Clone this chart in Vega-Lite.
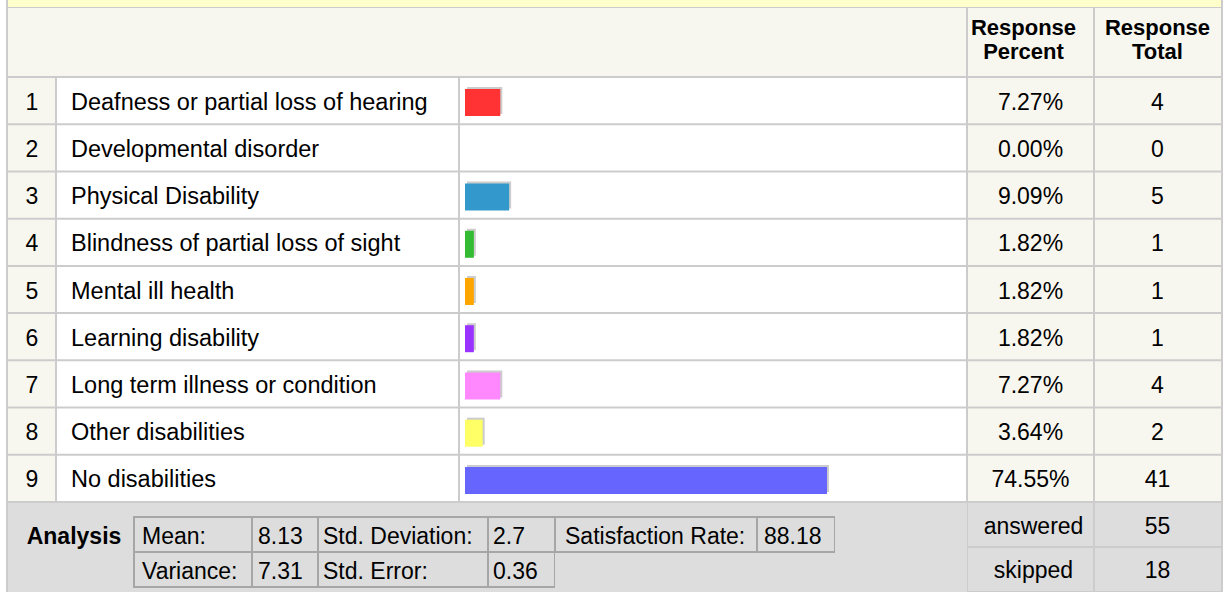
{
  "$schema": "https://vega.github.io/schema/vega-lite/v6.json",
  "padding": {"left": 6, "top": 0, "right": 4, "bottom": 0},
  "background": "white",
  "spacing": 0,
  "config": {
    "view": {"stroke": null},
    "font": "Liberation Sans",
    "text": {"fontSize": 23, "color": "#000000"}
  },
  "datasets": {
    "rows": [
      {"n": 1, "label": "Deafness or partial loss of hearing", "share": 0.0727, "total": 4},
      {"n": 2, "label": "Developmental disorder", "share": 0.0, "total": 0},
      {"n": 3, "label": "Physical Disability", "share": 0.0909, "total": 5},
      {"n": 4, "label": "Blindness of partial loss of sight", "share": 0.0182, "total": 1},
      {"n": 5, "label": "Mental ill health", "share": 0.0182, "total": 1},
      {"n": 6, "label": "Learning disability", "share": 0.0182, "total": 1},
      {"n": 7, "label": "Long term illness or condition", "share": 0.0727, "total": 4},
      {"n": 8, "label": "Other disabilities", "share": 0.0364, "total": 2},
      {"n": 9, "label": "No disabilities", "share": 0.7455, "total": 41}
    ],
    "headers": [
      {"col": "choice", "title": ""},
      {"col": "percent", "title": "Response Percent"},
      {"col": "total", "title": "Response Total"}
    ],
    "summary": [
      {"key": "answered", "count": 55},
      {"key": "skipped", "count": 18}
    ],
    "analysis": [
      {"row": "r1", "col": "c0", "text": "Analysis"},
      {"row": "r1", "col": "c1", "text": "Mean:"},
      {"row": "r1", "col": "c2", "text": "8.13"},
      {"row": "r1", "col": "c3", "text": "Std. Deviation:"},
      {"row": "r1", "col": "c4", "text": "2.7"},
      {"row": "r1", "col": "c5", "text": "Satisfaction Rate:"},
      {"row": "r1", "col": "c6", "text": "88.18"},
      {"row": "r2", "col": "c1", "text": "Variance:"},
      {"row": "r2", "col": "c2", "text": "7.31"},
      {"row": "r2", "col": "c3", "text": "Std. Error:"},
      {"row": "r2", "col": "c4", "text": "0.36"}
    ],
    "blank": [{"t": ""}]
  },
  "vconcat": [
    {
      "width": 1217, "height": 7,
      "view": {"fill": "#CCCCCC"},
      "data": {"name": "blank"},
      "mark": {"type": "rect", "fill": "#FFFFCC"},
      "encoding": {
        "x": {"datum": 0, "type": "quantitative", "scale": {"domain": [0, 1], "range": [2, 1215]}, "axis": null},
        "x2": {"datum": 1},
        "y": {"datum": 0, "type": "quantitative", "scale": {"domain": [0, 1], "range": [0, 7]}, "axis": null},
        "y2": {"datum": 1}
      }
    },
    {
      "spacing": 0,
      "bounds": "flush",
      "hconcat": [
        {
          "width": 961, "height": 70,
          "view": {"fill": "#CCCCCC"},
          "data": {"name": "headers"},
          "transform": [{"filter": "datum.col == 'choice'"}],
          "mark": {"type": "rect", "fill": "#F8F7EF"},
          "encoding": {
            "x": {"datum": 0, "type": "quantitative", "scale": {"domain": [0, 1], "range": [2, 960]}, "axis": null},
            "x2": {"datum": 1},
            "y": {"datum": 0, "type": "quantitative", "scale": {"domain": [0, 1], "range": [1, 69]}, "axis": null},
            "y2": {"datum": 1}
          }
        },
        {
          "width": 127, "height": 70,
          "view": {"fill": "#CCCCCC"},
          "data": {"name": "headers"},
          "transform": [{"filter": "datum.col == 'percent'"}],
          "layer": [
            {
              "mark": {"type": "rect", "fill": "#F8F7EF"},
              "encoding": {
                "x": {"datum": 0, "type": "quantitative", "scale": {"domain": [0, 1], "range": [1, 126]}, "axis": null},
                "x2": {"datum": 1},
                "y": {"datum": 0, "type": "quantitative", "scale": {"domain": [0, 1], "range": [1, 69]}, "axis": null},
                "y2": {"datum": 1}
              }
            },
            {
              "mark": {"type": "text", "fontWeight": "bold", "fontSize": 22, "lineBreak": " ", "lineHeight": 24, "dy": -14, "dx": -7},
              "encoding": {"text": {"field": "title"}}
            }
          ]
        },
        {
          "width": 129, "height": 70,
          "view": {"fill": "#CCCCCC"},
          "data": {"name": "headers"},
          "transform": [{"filter": "datum.col == 'total'"}],
          "layer": [
            {
              "mark": {"type": "rect", "fill": "#F8F7EF"},
              "encoding": {
                "x": {"datum": 0, "type": "quantitative", "scale": {"domain": [0, 1], "range": [1, 127]}, "axis": null},
                "x2": {"datum": 1},
                "y": {"datum": 0, "type": "quantitative", "scale": {"domain": [0, 1], "range": [1, 69]}, "axis": null},
                "y2": {"datum": 1}
              }
            },
            {
              "mark": {"type": "text", "fontWeight": "bold", "fontSize": 22, "lineBreak": " ", "lineHeight": 24, "dy": -14, "dx": -1},
              "encoding": {"text": {"field": "title"}}
            }
          ]
        }
      ]
    },
    {
      "spacing": 0,
      "bounds": "flush",
      "hconcat": [
        {
          "width": 50, "height": 426,
          "view": {"fill": "#CCCCCC"},
          "data": {"name": "rows"},
          "encoding": {"y": {"field": "n", "type": "ordinal", "axis": null, "scale": {"range": [1, 424], "paddingInner": 0.04235, "paddingOuter": 0}}},
          "layer": [
            {
              "mark": {"type": "rect", "fill": "#F8F7EF"},
              "encoding": {
                "x": {"datum": 0, "type": "quantitative", "scale": {"domain": [0, 1], "range": [2, 49]}, "axis": null},
                "x2": {"datum": 1}
              }
            },
            {"mark": {"type": "text", "dy": 2, "dx": 1}, "encoding": {"text": {"field": "n"}}}
          ]
        },
        {
          "width": 403, "height": 426,
          "view": {"fill": "#CCCCCC"},
          "data": {"name": "rows"},
          "encoding": {"y": {"field": "n", "type": "ordinal", "axis": null, "scale": {"range": [1, 424], "paddingInner": 0.04235, "paddingOuter": 0}}},
          "layer": [
            {
              "mark": {"type": "rect", "fill": "#FFFFFF"},
              "encoding": {
                "x": {"datum": 0, "type": "quantitative", "scale": {"domain": [0, 1], "range": [1, 402]}, "axis": null},
                "x2": {"datum": 1}
              }
            },
            {
              "mark": {"type": "text", "align": "left", "dx": 14, "dy": 2, "fontSize": 23.5},
              "encoding": {
                "x": {"datum": 0, "type": "quantitative"},
                "text": {"field": "label"}
              }
            }
          ]
        },
        {
          "width": 508, "height": 426,
          "view": {"fill": "#CCCCCC"},
          "data": {"name": "rows"},
          "encoding": {"y": {"field": "n", "type": "ordinal", "axis": null, "scale": {"range": [1, 424], "paddingInner": 0.04235, "paddingOuter": 0}}},
          "resolve": {"scale": {"x": "independent"}},
          "layer": [
            {
              "mark": {"type": "rect", "fill": "#FFFFFF"},
              "encoding": {
                "x": {"datum": 0, "type": "quantitative", "scale": {"domain": [0, 1], "range": [1, 507]}, "axis": null},
                "x2": {"datum": 1}
              }
            },
            {
              "transform": [{"filter": "datum.share > 0"}],
              "mark": {"type": "bar", "color": "#CCCCCC", "height": 27},
              "encoding": {
                "x": {"field": "share", "type": "quantitative", "scale": {"domain": [0, 1], "range": [8, 493.6]}, "axis": null}
              }
            },
            {
              "transform": [{"filter": "datum.share > 0"}],
              "mark": {"type": "bar", "height": 27, "yOffset": 2, "xOffset": -2},
              "encoding": {
                "x": {"field": "share", "type": "quantitative", "scale": {"domain": [0, 1], "range": [8, 493.6]}, "axis": null},
                "color": {
                  "field": "n", "type": "nominal", "legend": null,
                  "scale": {
                    "domain": [1, 2, 3, 4, 5, 6, 7, 8, 9],
                    "range": ["#FF3333", "#66CC66", "#3399CC", "#33BB33", "#FFA500", "#9933FF", "#FF88FF", "#FFFF66", "#6666FF"]
                  }
                }
              }
            }
          ]
        },
        {
          "width": 127, "height": 426,
          "view": {"fill": "#CCCCCC"},
          "data": {"name": "rows"},
          "encoding": {"y": {"field": "n", "type": "ordinal", "axis": null, "scale": {"range": [1, 424], "paddingInner": 0.04235, "paddingOuter": 0}}},
          "layer": [
            {
              "mark": {"type": "rect", "fill": "#F8F7EF"},
              "encoding": {
                "x": {"datum": 0, "type": "quantitative", "scale": {"domain": [0, 1], "range": [1, 126]}, "axis": null},
                "x2": {"datum": 1}
              }
            },
            {"mark": {"type": "text", "dy": 2}, "encoding": {"text": {"field": "share", "type": "quantitative", "format": ".2%"}}}
          ]
        },
        {
          "width": 129, "height": 426,
          "view": {"fill": "#CCCCCC"},
          "data": {"name": "rows"},
          "encoding": {"y": {"field": "n", "type": "ordinal", "axis": null, "scale": {"range": [1, 424], "paddingInner": 0.04235, "paddingOuter": 0}}},
          "layer": [
            {
              "mark": {"type": "rect", "fill": "#F8F7EF"},
              "encoding": {
                "x": {"datum": 0, "type": "quantitative", "scale": {"domain": [0, 1], "range": [1, 127]}, "axis": null},
                "x2": {"datum": 1}
              }
            },
            {"mark": {"type": "text", "dy": 2, "dx": -1}, "encoding": {"text": {"field": "total", "type": "quantitative"}}}
          ]
        }
      ]
    },
    {
      "spacing": 0,
      "bounds": "flush",
      "hconcat": [
        {
          "width": 128, "height": 89,
          "view": {"fill": "#CCCCCC"},
          "data": {"name": "analysis"},
          "transform": [{"filter": "datum.col == 'c0'"}],
          "resolve": {"scale": {"y": "independent"}},
          "layer": [
            {
              "mark": {"type": "rect", "fill": "#DDDDDD"},
              "encoding": {
                "x": {"datum": 0, "type": "quantitative", "scale": {"domain": [0, 1], "range": [2, 128]}, "axis": null},
                "x2": {"datum": 1},
                "y": {"datum": 0, "type": "quantitative", "scale": {"domain": [0, 1], "range": [0, 89]}, "axis": null},
                "y2": {"datum": 1}
              }
            },
            {
              "mark": {"type": "text", "fontWeight": "bold", "dx": 4, "dy": 2},
              "encoding": {
                "y": {"field": "row", "type": "nominal", "axis": null, "scale": {"domain": ["r1", "r2"], "range": [14, 84], "paddingInner": 0, "paddingOuter": 0}},
                "text": {"field": "text"}
              }
            }
          ]
        },
        {
          "width": 118, "height": 89,
          "view": {"fill": "#DDDDDD"},
          "data": {"name": "analysis"},
          "transform": [{"filter": "datum.col == 'c1'"}],
          "encoding": {"y": {"field": "row", "type": "nominal", "axis": null, "scale": {"domain": ["r1", "r2"], "range": [14, 84], "paddingInner": 0, "paddingOuter": 0}}},
          "layer": [
            {"mark": {"type": "rect", "fill": "#DDDDDD", "stroke": "#A6A6A6", "strokeWidth": 2}},
            {
              "mark": {"type": "text", "align": "left", "dx": 8, "dy": 2},
              "encoding": {"x": {"datum": 0, "type": "quantitative", "scale": {"domain": [0, 1]}, "axis": null}, "text": {"field": "text"}}
            }
          ]
        },
        {
          "width": 66, "height": 89,
          "view": {"fill": "#DDDDDD"},
          "data": {"name": "analysis"},
          "transform": [{"filter": "datum.col == 'c2'"}],
          "encoding": {"y": {"field": "row", "type": "nominal", "axis": null, "scale": {"domain": ["r1", "r2"], "range": [14, 84], "paddingInner": 0, "paddingOuter": 0}}},
          "layer": [
            {"mark": {"type": "rect", "fill": "#DDDDDD", "stroke": "#A6A6A6", "strokeWidth": 2}},
            {
              "mark": {"type": "text", "align": "left", "dx": 6, "dy": 2},
              "encoding": {"x": {"datum": 0, "type": "quantitative", "scale": {"domain": [0, 1]}, "axis": null}, "text": {"field": "text"}}
            }
          ]
        },
        {
          "width": 170, "height": 89,
          "view": {"fill": "#DDDDDD"},
          "data": {"name": "analysis"},
          "transform": [{"filter": "datum.col == 'c3'"}],
          "encoding": {"y": {"field": "row", "type": "nominal", "axis": null, "scale": {"domain": ["r1", "r2"], "range": [14, 84], "paddingInner": 0, "paddingOuter": 0}}},
          "layer": [
            {"mark": {"type": "rect", "fill": "#DDDDDD", "stroke": "#A6A6A6", "strokeWidth": 2}},
            {
              "mark": {"type": "text", "align": "left", "dx": 5, "dy": 2},
              "encoding": {"x": {"datum": 0, "type": "quantitative", "scale": {"domain": [0, 1]}, "axis": null}, "text": {"field": "text"}}
            }
          ]
        },
        {
          "width": 67, "height": 89,
          "view": {"fill": "#DDDDDD"},
          "data": {"name": "analysis"},
          "transform": [{"filter": "datum.col == 'c4'"}],
          "encoding": {"y": {"field": "row", "type": "nominal", "axis": null, "scale": {"domain": ["r1", "r2"], "range": [14, 84], "paddingInner": 0, "paddingOuter": 0}}},
          "layer": [
            {"mark": {"type": "rect", "fill": "#DDDDDD", "stroke": "#A6A6A6", "strokeWidth": 2}},
            {
              "mark": {"type": "text", "align": "left", "dx": 5, "dy": 2},
              "encoding": {"x": {"datum": 0, "type": "quantitative", "scale": {"domain": [0, 1]}, "axis": null}, "text": {"field": "text"}}
            }
          ]
        },
        {
          "width": 202, "height": 89,
          "view": {"fill": "#DDDDDD"},
          "data": {"name": "analysis"},
          "transform": [{"filter": "datum.col == 'c5'"}],
          "encoding": {"y": {"field": "row", "type": "nominal", "axis": null, "scale": {"domain": ["r1", "r2"], "range": [14, 84], "paddingInner": 0, "paddingOuter": 0}}},
          "layer": [
            {"mark": {"type": "rect", "fill": "#DDDDDD", "stroke": "#A6A6A6", "strokeWidth": 2}},
            {
              "mark": {"type": "text", "align": "left", "dx": 10, "dy": 2},
              "encoding": {"x": {"datum": 0, "type": "quantitative", "scale": {"domain": [0, 1]}, "axis": null}, "text": {"field": "text"}}
            }
          ]
        },
        {
          "width": 78, "height": 89,
          "view": {"fill": "#DDDDDD"},
          "data": {"name": "analysis"},
          "transform": [{"filter": "datum.col == 'c6'"}],
          "encoding": {"y": {"field": "row", "type": "nominal", "axis": null, "scale": {"domain": ["r1", "r2"], "range": [14, 84], "paddingInner": 0, "paddingOuter": 0}}},
          "layer": [
            {"mark": {"type": "rect", "fill": "#DDDDDD", "stroke": "#A6A6A6", "strokeWidth": 2}},
            {
              "mark": {"type": "text", "align": "left", "dx": 7, "dy": 2},
              "encoding": {"x": {"datum": 0, "type": "quantitative", "scale": {"domain": [0, 1]}, "axis": null}, "text": {"field": "text"}}
            }
          ]
        },
        {
          "width": 132, "height": 89,
          "view": {"fill": "#DDDDDD"},
          "data": {"name": "blank"},
          "mark": {"type": "text", "fontSize": 1},
          "encoding": {"text": {"field": "t"}}
        },
        {
          "width": 127, "height": 89,
          "view": {"fill": "#CCCCCC"},
          "data": {"name": "summary"},
          "encoding": {"y": {"field": "key", "type": "nominal", "axis": null, "sort": null, "scale": {"range": [0, 88], "paddingInner": 0.0444, "paddingOuter": 0}}},
          "layer": [
            {
              "mark": {"type": "rect", "fill": "#DDDDDD"},
              "encoding": {
                "x": {"datum": 0, "type": "quantitative", "scale": {"domain": [0, 1], "range": [1, 126]}, "axis": null},
                "x2": {"datum": 1}
              }
            },
            {"mark": {"type": "text", "dx": 3, "dy": 2}, "encoding": {"text": {"field": "key"}}}
          ]
        },
        {
          "width": 129, "height": 89,
          "view": {"fill": "#CCCCCC"},
          "data": {"name": "summary"},
          "encoding": {"y": {"field": "key", "type": "nominal", "axis": null, "sort": null, "scale": {"range": [0, 88], "paddingInner": 0.0444, "paddingOuter": 0}}},
          "layer": [
            {
              "mark": {"type": "rect", "fill": "#DDDDDD"},
              "encoding": {
                "x": {"datum": 0, "type": "quantitative", "scale": {"domain": [0, 1], "range": [1, 127]}, "axis": null},
                "x2": {"datum": 1}
              }
            },
            {"mark": {"type": "text", "dy": 2, "dx": -1}, "encoding": {"text": {"field": "count", "type": "quantitative"}}}
          ]
        }
      ]
    }
  ]
}
